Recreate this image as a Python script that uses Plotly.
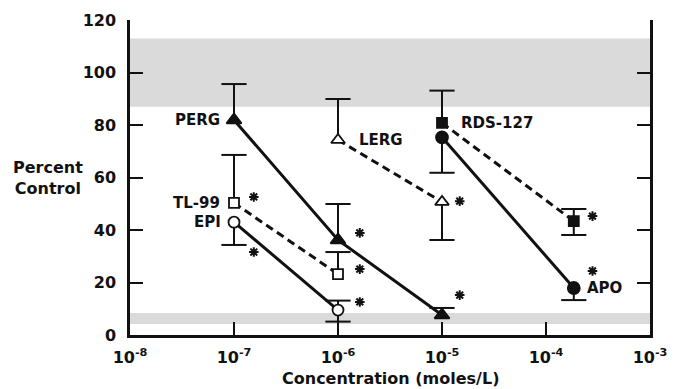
import math
import plotly.graph_objects as go

# ---------------- data ----------------
x_tick_vals = [1e-8, 1e-7, 1e-6, 1e-5, 1e-4, 1e-3]
x_tick_text = ["10<sup>-8</sup>", "10<sup>-7</sup>", "10<sup>-6</sup>",
               "10<sup>-5</sup>", "10<sup>-4</sup>", "10<sup>-3</sup>"]
y_tick_vals = [0, 20, 40, 60, 80, 100, 120]

# control ranges (shaded bands)
band_upper = [87, 113]
band_lower = [4.2, 8.4]

perg_x = [1e-7, 1e-6, 1e-5]
perg_y = [81.9, 36.2, 7.6]
perg_up = [13.7, 13.7, 2.7]
perg_dn = [0, 0, 0]

lerg_x = [1e-6, 1e-5]
lerg_y = [74.3, 50.7]
lerg_up = [15.6, 0]
lerg_dn = [0, 14.5]

tl99_x = [1e-7, 1e-6]
tl99_y = [50.3, 23.2]
tl99_up = [18.3, 8.4]
tl99_dn = [0, 0]

epi_x = [1e-7, 1e-6]
epi_y = [43.0, 9.5]
epi_up = [0, 3.6]
epi_dn = [8.7, 4.4]

rds_x = [1e-5, 1.85e-4]
rds_y = [80.8, 43.4]
rds_up = [12.3, 4.6]
rds_dn = [0, 5.3]

apo_x = [1e-5, 1.85e-4]
apo_y = [75.3, 17.9]
apo_up = [0, 0]
apo_dn = [13.5, 4.6]

# significance asterisks
star_x = [1.55e-7, 1.55e-7, 1.62e-6, 1.62e-6, 1.62e-6, 1.48e-5, 1.48e-5, 2.8e-4, 2.8e-4]
star_y = [52.6, 31.6, 38.9, 25.1, 12.6, 51.0, 15.2, 45.3, 24.4]

FONT = "DejaVu Sans"
BLACK = "#111111"

fig = go.Figure()

# shaded control bands
for lo, hi in (band_upper, band_lower):
    fig.add_shape(type="rect", xref="paper", x0=0, x1=1, yref="y", y0=lo, y1=hi,
                  fillcolor="#dadada", line=dict(width=0), layer="below")

series = [
    # name, x, y, up, dn, symbol, fill, dash, size
    ("PERG", perg_x, perg_y, perg_up, perg_dn, "triangle-up", BLACK, "solid", 13),
    ("LERG", lerg_x, lerg_y, lerg_up, lerg_dn, "triangle-up", "white", "8px,5px", 12),
    ("TL-99", tl99_x, tl99_y, tl99_up, tl99_dn, "square", "white", "8px,5px", 10),
    ("EPI", epi_x, epi_y, epi_up, epi_dn, "circle", "white", "solid", 11),
    ("RDS-127", rds_x, rds_y, rds_up, rds_dn, "square", BLACK, "8px,5px", 10),
    ("APO", apo_x, apo_y, apo_up, apo_dn, "circle", BLACK, "solid", 12),
]

# error bars (vertical stems) and caps
for name, xs, ys, up, dn, sym, fill, dash, size in series:
    fig.add_trace(go.Scatter(
        x=xs, y=ys, mode="none", showlegend=False, hoverinfo="skip",
        error_y=dict(type="data", symmetric=False, array=up, arrayminus=dn,
                     color=BLACK, thickness=2, width=0)))
    cap_x, cap_y = [], []
    for xv, yv, u, d in zip(xs, ys, up, dn):
        if u > 0:
            cap_x.append(xv); cap_y.append(yv + u)
        if d > 0:
            cap_x.append(xv); cap_y.append(yv - d)
    fig.add_trace(go.Scatter(
        x=cap_x, y=cap_y, mode="markers", showlegend=False, hoverinfo="skip",
        marker=dict(symbol="line-ew", size=18, color=BLACK,
                    line=dict(color=BLACK, width=2))))

# lines and markers
for name, xs, ys, up, dn, sym, fill, dash, size in series:
    fig.add_trace(go.Scatter(
        x=xs, y=ys, mode="lines+markers", name=name, showlegend=False,
        line=dict(color=BLACK, width=3, dash=dash),
        marker=dict(symbol=sym, size=size, color=fill,
                    line=dict(color=BLACK, width=1.8))))

# asterisks
fig.add_trace(go.Scatter(
    x=star_x, y=star_y, mode="markers", showlegend=False, hoverinfo="skip",
    marker=dict(symbol="asterisk-open", size=8, color=BLACK,
                line=dict(color=BLACK, width=2))))

# series labels
label_specs = [
    ("PERG", perg_x[0], perg_y[0], "right", -12),
    ("LERG", lerg_x[0], lerg_y[0], "left", 19),
    ("RDS-127", rds_x[0], rds_y[0], "left", 17),
    ("TL-99", tl99_x[0], tl99_y[0], "right", -12),
    ("EPI", epi_x[0], epi_y[0], "right", -11),
    ("APO", apo_x[1], apo_y[1], "left", 11),
]
for txt, xv, yv, anchor, shift in label_specs:
    fig.add_annotation(x=math.log10(xv), y=yv, xref="x", yref="y", text=txt,
                       showarrow=False, xanchor=anchor, yanchor="middle", xshift=shift,
                       font=dict(family=FONT, size=15, color=BLACK, weight="bold"))

fig.add_annotation(x=-0.158, y=0.5, xref="paper", yref="paper",
                   text="Percent<br>Control", showarrow=False, xanchor="center",
                   yanchor="middle", align="center",
                   font=dict(family=FONT, size=16, color=BLACK, weight="bold"))
fig.add_annotation(x=0.5, y=-0.137, xref="paper", yref="paper",
                   text="Concentration (moles/L)", showarrow=False, xanchor="center",
                   yanchor="middle",
                   font=dict(family=FONT, size=16, color=BLACK, weight="bold"))

# page body has an 8px default margin, so the figure is sized to fit the window
fig.update_layout(
    width=667, height=381,
    margin=dict(l=122, r=25, t=12, b=54, autoexpand=False),
    paper_bgcolor="white", plot_bgcolor="white",
    font=dict(family=FONT, color=BLACK),
    showlegend=False,
    xaxis=dict(type="log", range=[-8, -3], tickvals=x_tick_vals, ticktext=x_tick_text,
               ticks="inside", ticklen=13, tickwidth=2, tickcolor=BLACK,
               showline=True, linewidth=2.5, linecolor=BLACK, mirror=False,
               showgrid=False, zeroline=False, ticklabelstandoff=6, automargin=False,
               tickfont=dict(family=FONT, size=16, color=BLACK, weight="bold")),
    yaxis=dict(range=[0, 120], tickvals=y_tick_vals,
               ticks="inside", ticklen=13, tickwidth=2, tickcolor=BLACK,
               showline=True, linewidth=2.5, linecolor=BLACK, mirror="ticks",
               showgrid=False, zeroline=False, ticklabelstandoff=8, automargin=False,
               tickfont=dict(family=FONT, size=16, color=BLACK, weight="bold")),
)

fig.write_html("out.html")
